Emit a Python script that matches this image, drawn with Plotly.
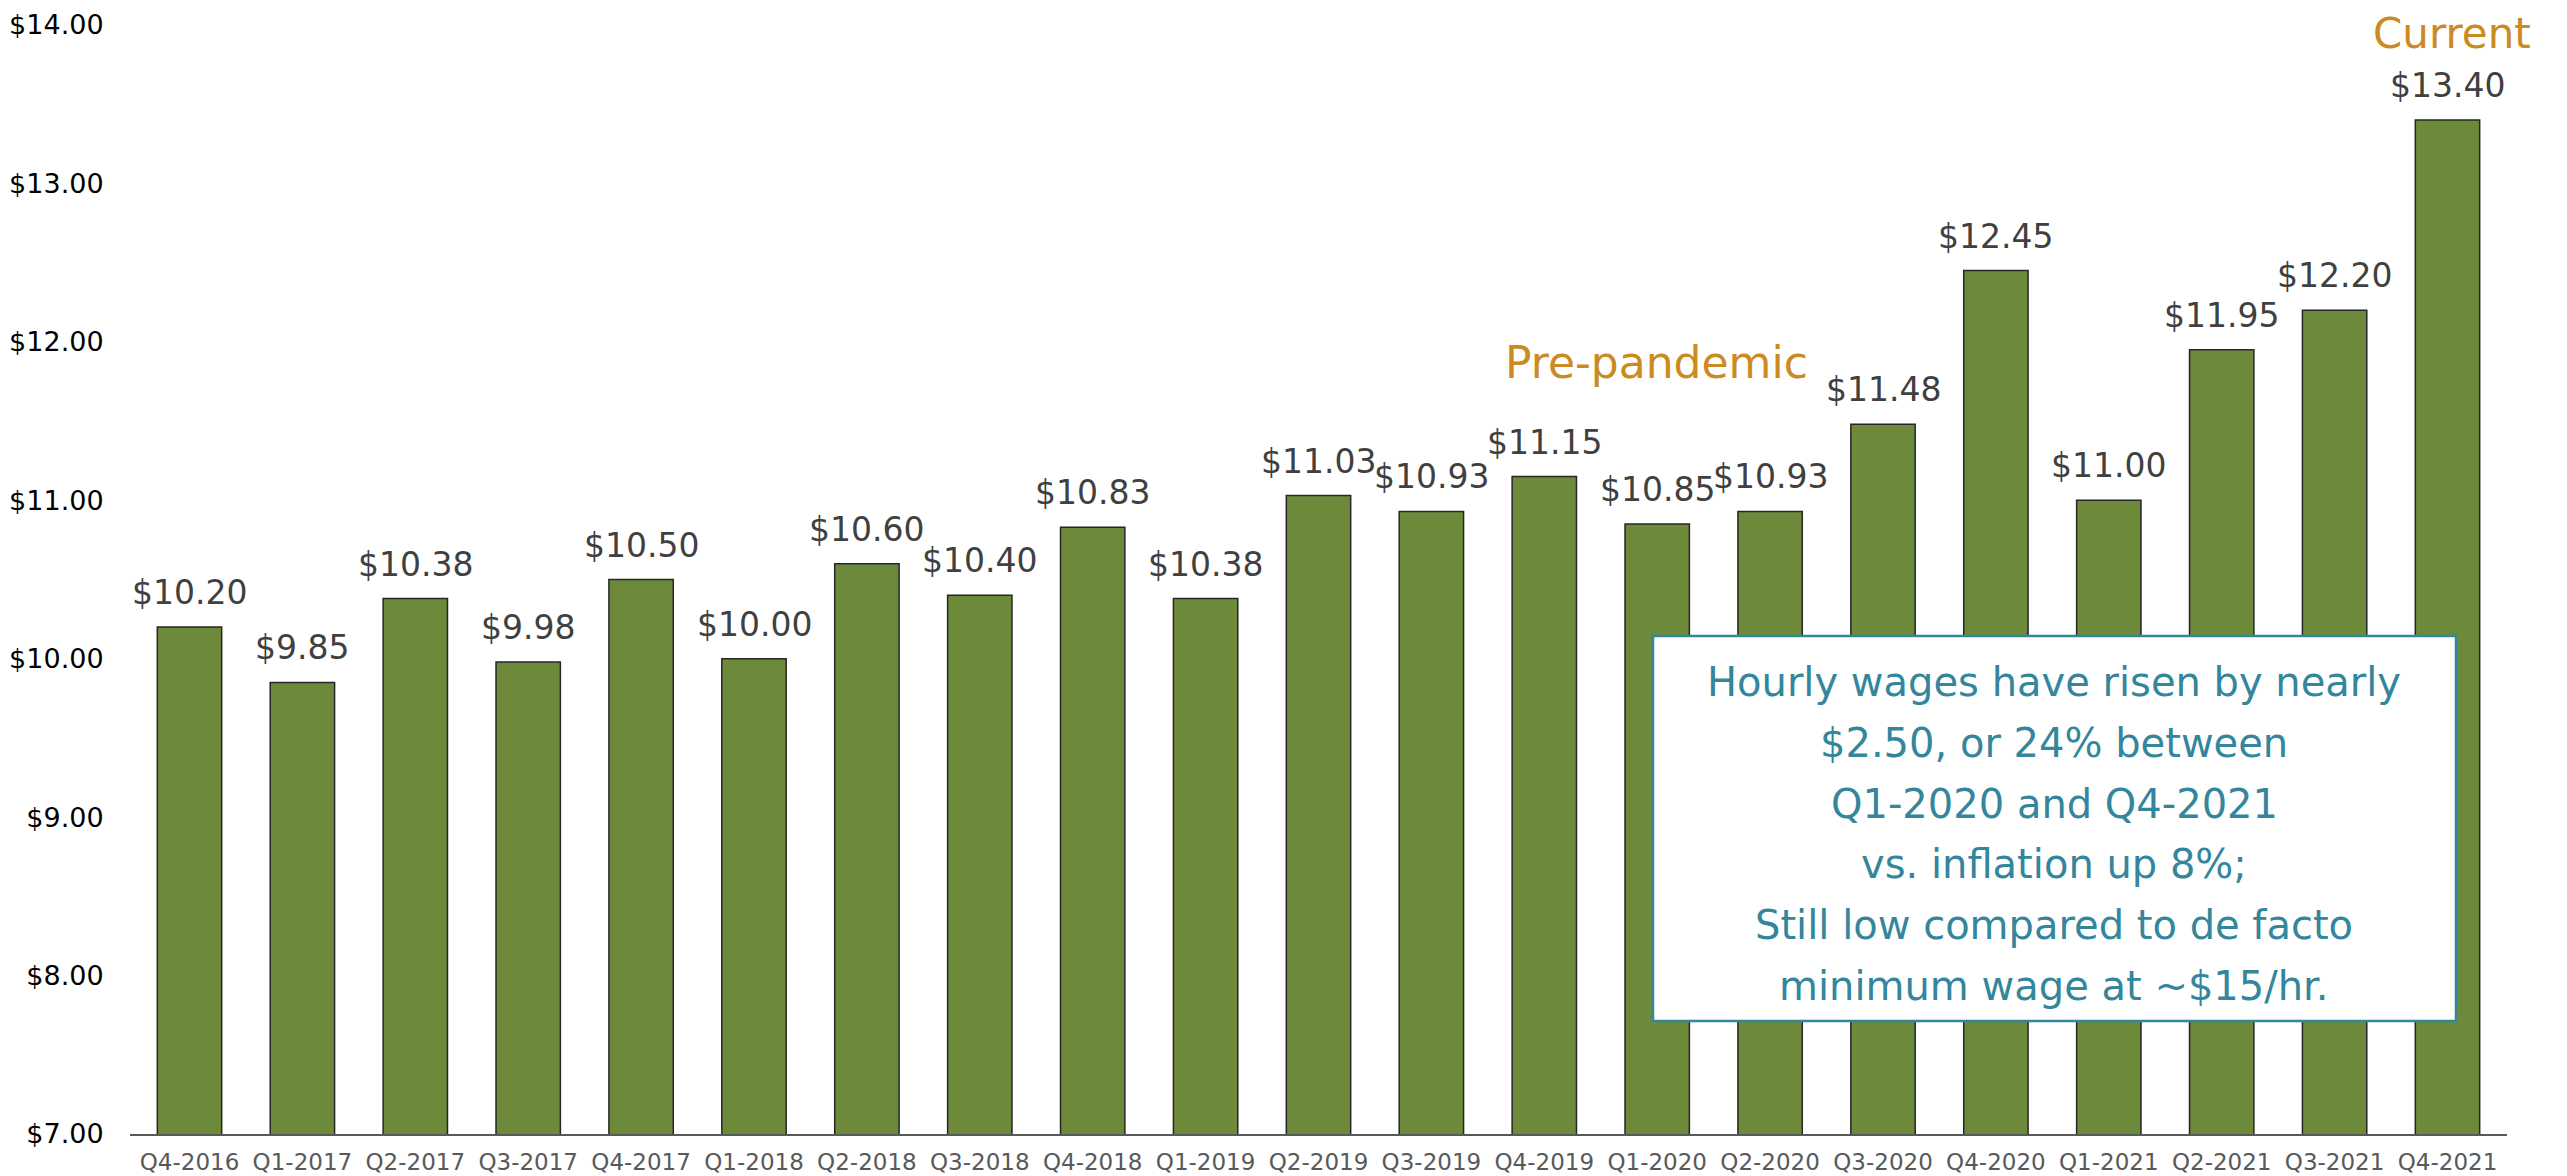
import plotly.graph_objects as go

quarters = ["Q4-2016", "Q1-2017", "Q2-2017", "Q3-2017", "Q4-2017", "Q1-2018", "Q2-2018",
            "Q3-2018", "Q4-2018", "Q1-2019", "Q2-2019", "Q3-2019", "Q4-2019", "Q1-2020",
            "Q2-2020", "Q3-2020", "Q4-2020", "Q1-2021", "Q2-2021", "Q3-2021", "Q4-2021"]
wages = [10.20, 9.85, 10.38, 9.98, 10.50, 10.00, 10.60, 10.40, 10.83, 10.38, 11.03,
         10.93, 11.15, 10.85, 10.93, 11.48, 12.45, 11.00, 11.95, 12.20, 13.40]
y_ticks = [7, 8, 9, 10, 11, 12, 13, 14]
y_tick_labels = ["$%.2f" % v for v in y_ticks]
box_lines = ["Hourly wages have risen by nearly",
             "$2.50, or 24% between",
             "Q1-2020 and Q4-2021",
             "vs. inflation up 8%;",
             "Still low compared to de facto",
             "minimum wage at ~$15/hr."]

FONT = "'DejaVu Sans', sans-serif"
BAR = "#6D8A3A"
ORANGE = "#CB8A22"
TEAL = "#33869C"

# the page body has an 8px margin; figure sized to fill the rest of the window
OFF = 8
W, H = 2567 - OFF, 1176 - OFF
ML, MR, MT, MB = 122, 60, 17, 42
PW, PH = W - ML - MR, H - MT - MB


def px(x):
    """screen x pixel -> paper x"""
    return (x - OFF - ML) / PW


def py(y):
    """screen y pixel -> paper y"""
    return (H - MB - (y - OFF)) / PH


fig = go.Figure()
fig.add_trace(go.Bar(
    x=quarters, y=wages,
    marker=dict(color=BAR, line=dict(color="#262626", width=1.5)),
    hoverinfo="x+y",
))

for q, w in zip(quarters, wages):
    fig.add_annotation(x=q, y=w, text="$%.2f" % w, showarrow=False,
                       yanchor="bottom", xanchor="center", yshift=13,
                       font=dict(family=FONT, size=33, color="#404040"))

fig.add_annotation(xref="paper", yref="paper", x=px(1656), y=py(362), text="Pre-pandemic",
                   showarrow=False, xanchor="center", yanchor="middle",
                   font=dict(family=FONT, size=44, color=ORANGE))
fig.add_annotation(xref="paper", yref="paper", x=px(2452), y=py(33), text="Current",
                   showarrow=False, xanchor="center", yanchor="middle",
                   font=dict(family=FONT, size=42, color=ORANGE))

fig.add_shape(type="rect", xref="paper", yref="paper", x0=px(1653), x1=px(2456),
              y0=py(1021), y1=py(636), fillcolor="white", line=dict(color=TEAL, width=2.5),
              layer="above")
for i, line in enumerate(box_lines):
    fig.add_annotation(xref="paper", yref="paper", x=px(2054), y=py(682 + 60.8 * i),
                       text=line, showarrow=False, xanchor="center", yanchor="middle",
                       font=dict(family=FONT, size=40, color=TEAL))

fig.update_layout(
    width=W, height=H,
    margin=dict(l=ML, r=MR, t=MT, b=MB, autoexpand=False),
    paper_bgcolor="white", plot_bgcolor="white",
    bargap=0.43, showlegend=False,
    font=dict(family=FONT),
)
fig.update_xaxes(
    type="category", showline=True, linecolor="#595959", linewidth=2,
    showgrid=False, ticks="outside", ticklen=6, tickcolor="rgba(0,0,0,0)",
    tickfont=dict(family=FONT, size=23, color="#595959"), automargin=False,
)
fig.update_yaxes(
    range=[7, 14], tickvals=y_ticks, ticktext=y_tick_labels,
    showgrid=False, zeroline=False, showline=False,
    ticks="outside", ticklen=20, tickcolor="rgba(0,0,0,0)",
    tickfont=dict(family=FONT, size=27, color="#000000"), automargin=False,
)

fig.write_html("out.html")
